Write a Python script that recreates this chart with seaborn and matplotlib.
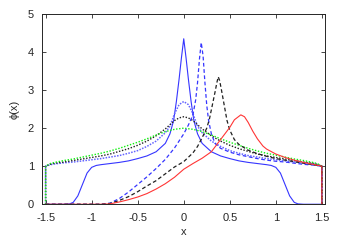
import matplotlib
matplotlib.use("Agg")
import matplotlib.pyplot as plt
import seaborn as sns

# blue solid
x_bs = [-1.5, -1.3, -1.24, -1.2, -1.15, -1.1, -1.05, -1.0, -0.95, -0.9, -0.8, -0.7, -0.6, -0.5, -0.4, -0.3,
        -0.2, -0.15, -0.11, -0.08, -0.05, -0.025, 0.0, 0.025, 0.05, 0.08, 0.11, 0.15, 0.2, 0.3, 0.4, 0.5,
        0.6, 0.7, 0.8, 0.9, 0.95, 1.0, 1.05, 1.1, 1.15, 1.2, 1.24, 1.3, 1.5]
y_bs = [0, 0, 0.01, 0.05, 0.22, 0.52, 0.82, 0.97, 1.02, 1.04, 1.07, 1.1, 1.14, 1.2, 1.27, 1.38,
        1.6, 1.85, 2.2, 2.7, 3.3, 3.85, 4.35, 3.85, 3.3, 2.7, 2.2, 1.85, 1.6, 1.38, 1.27, 1.2,
        1.14, 1.1, 1.07, 1.04, 1.02, 0.97, 0.82, 0.52, 0.22, 0.05, 0.01, 0, 0]

# blue dotted
x_bd = [-1.5, -1.5, -1.45, -1.4, -1.3, -1.2, -1.1, -1.0, -0.9, -0.8, -0.7, -0.6, -0.5, -0.4, -0.3, -0.2,
        -0.15, -0.1, -0.05, 0.0, 0.05, 0.1, 0.15, 0.2, 0.3, 0.4, 0.5, 0.6, 0.7, 0.8, 0.9, 1.0,
        1.1, 1.2, 1.3, 1.4, 1.45, 1.5, 1.5]
y_bd = [0, 1.0, 1.04, 1.06, 1.09, 1.11, 1.14, 1.17, 1.2, 1.24, 1.28, 1.34, 1.41, 1.52, 1.66, 1.88,
        2.05, 2.38, 2.62, 2.7, 2.62, 2.38, 2.05, 1.88, 1.66, 1.52, 1.41, 1.34, 1.28, 1.24, 1.2, 1.17,
        1.14, 1.11, 1.09, 1.06, 1.04, 1.0, 0]

# black dotted
x_kd = [-1.5, -1.5, -1.45, -1.4, -1.3, -1.2, -1.1, -1.0, -0.9, -0.8, -0.7, -0.6, -0.5, -0.4, -0.3, -0.2,
        -0.1, -0.05, 0.0, 0.05, 0.1, 0.2, 0.3, 0.4, 0.5, 0.6, 0.7, 0.8, 0.9, 1.0,
        1.1, 1.2, 1.3, 1.4, 1.45, 1.5, 1.5]
y_kd = [0, 1.0, 1.05, 1.08, 1.11, 1.15, 1.19, 1.23, 1.27, 1.32, 1.39, 1.46, 1.55, 1.66, 1.8, 1.98,
        2.2, 2.27, 2.3, 2.27, 2.2, 1.98, 1.8, 1.66, 1.55, 1.46, 1.39, 1.32, 1.27, 1.23,
        1.19, 1.15, 1.11, 1.08, 1.05, 1.0, 0]

# green dotted
x_gd = [-1.5, -1.5, -1.45, -1.4, -1.3, -1.2, -1.1, -1.0, -0.9, -0.8, -0.7, -0.6, -0.5, -0.4, -0.3, -0.2,
        -0.1, 0.0, 0.1, 0.2, 0.3, 0.4, 0.5, 0.6, 0.7, 0.8, 0.9, 1.0,
        1.1, 1.2, 1.3, 1.4, 1.45, 1.5, 1.5]
y_gd = [0, 1.0, 1.07, 1.1, 1.15, 1.19, 1.24, 1.29, 1.34, 1.4, 1.47, 1.55, 1.63, 1.72, 1.82, 1.91,
        1.97, 2.0, 1.97, 1.91, 1.82, 1.72, 1.63, 1.55, 1.47, 1.4, 1.34, 1.29,
        1.24, 1.19, 1.15, 1.1, 1.07, 1.0, 0]

# blue dashed
x_bk = [-1.5, -0.9, -0.8, -0.7, -0.6, -0.5, -0.4, -0.3, -0.2, -0.1, 0.0, 0.05, 0.1, 0.13, 0.15, 0.17,
        0.19, 0.21, 0.23, 0.25, 0.27, 0.3, 0.34, 0.4, 0.5, 0.6, 0.7, 0.8, 0.9, 1.0,
        1.1, 1.2, 1.3, 1.4, 1.5, 1.5]
y_bk = [0, 0, 0.03, 0.15, 0.32, 0.52, 0.72, 0.94, 1.18, 1.48, 1.85, 2.08, 2.35, 2.75, 3.2, 3.8,
        4.25, 3.9, 3.2, 2.6, 2.2, 1.85, 1.6, 1.47, 1.37, 1.3, 1.25, 1.2, 1.16, 1.13,
        1.11, 1.08, 1.05, 1.03, 1.0, 0]

# black dashed
x_kk = [-1.5, -0.9, -0.8, -0.7, -0.6, -0.5, -0.4, -0.3, -0.2, -0.1, 0.0, 0.1, 0.15, 0.2, 0.25, 0.28,
        0.31, 0.34, 0.36, 0.375, 0.39, 0.41, 0.44, 0.47, 0.5, 0.55, 0.6, 0.7, 0.8, 0.9, 1.0,
        1.1, 1.2, 1.3, 1.4, 1.5, 1.5]
y_kk = [0, 0, 0.02, 0.1, 0.2, 0.33, 0.48, 0.62, 0.8, 0.98, 1.12, 1.35, 1.52, 1.75, 2.0, 2.25,
        2.6, 2.95, 3.2, 3.35, 3.25, 3.0, 2.6, 2.2, 1.95, 1.7, 1.57, 1.42, 1.33, 1.26, 1.2,
        1.16, 1.12, 1.08, 1.04, 1.0, 0]

# red solid
x_rs = [-1.5, -0.9, -0.8, -0.7, -0.6, -0.5, -0.4, -0.3, -0.2, -0.1, 0.0, 0.1, 0.2, 0.3, 0.4, 0.5,
        0.55, 0.62, 0.66, 0.7, 0.75, 0.8, 0.86, 0.9, 1.0, 1.1, 1.2, 1.3, 1.4, 1.5, 1.5]
y_rs = [0, 0, 0.01, 0.06, 0.12, 0.19, 0.28, 0.4, 0.54, 0.71, 0.92, 1.07, 1.21, 1.38, 1.7, 2.02,
        2.22, 2.35, 2.3, 2.15, 1.92, 1.72, 1.53, 1.45, 1.32, 1.23, 1.16, 1.1, 1.05, 1.0, 0]

sns.set_style("ticks")
plt.rcParams["font.family"] = ["Liberation Sans", "DejaVu Sans"]
plt.rcParams["font.size"] = 8

fig, ax = plt.subplots(figsize=(3.46, 2.42), dpi=100)
fig.subplots_adjust(left=0.122, right=0.939, top=0.942, bottom=0.156)

curves = [
    (x_bs, y_bs, "#3535ff", "-", 0.8),
    (x_bd, y_bd, "#6464ff", (0, (1.0, 0.9)), 1.1),
    (x_kd, y_kd, "#202020", (0, (1.0, 1.2)), 1.0),
    (x_gd, y_gd, "#10f010", (0, (1.0, 1.2)), 1.0),
    (x_bk, y_bk, "#3535ff", (0, (3, 2)), 0.9),
    (x_kk, y_kk, "#202020", (0, (3, 2)), 0.9),
    (x_rs, y_rs, "#ff3535", "-", 0.8),
]
for xs, ys, c, ls, lw in curves:
    sns.lineplot(x=xs, y=ys, ax=ax, color=c, linestyle=ls, linewidth=lw,
                 estimator=None, sort=False)

ax.set_xlim(-1.537, 1.533)
ax.set_ylim(0, 5)
ax.set_xticks([-1.5, -1, -0.5, 0, 0.5, 1, 1.5])
ax.set_xticklabels(["-1.5", "-1", "-0.5", "0", "0.5", "1", "1.5"])
ax.set_yticks([0, 1, 2, 3, 4, 5])
ax.tick_params(direction="in", top=True, right=True, length=3, width=0.6,
               labelsize=8, pad=6)
for s in ax.spines.values():
    s.set_linewidth(0.7)
ax.set_xlabel("x", fontsize=8, labelpad=3)
ax.set_ylabel("ϕ(x)", fontsize=8, labelpad=6)

plt.savefig("out.png", dpi=100)
